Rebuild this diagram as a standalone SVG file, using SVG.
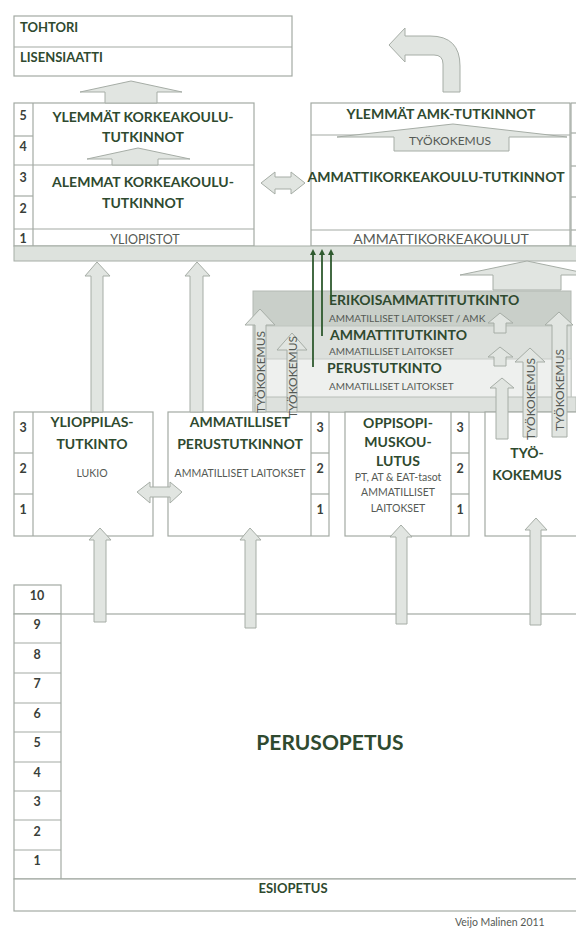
<svg xmlns="http://www.w3.org/2000/svg" width="576" height="930" viewBox="0 0 576 930">
<style>
.box{fill:#fff;stroke:#a3aaa3;stroke-width:1.2}
.ln{stroke:#a3aaa3;stroke-width:1.2;fill:none}
.arr{fill:#e1e5e1;stroke:#a6ada6;stroke-width:1}
.t{font-family:Lato,"Open Sans",sans-serif;font-weight:bold;fill:#2f4a2f;text-anchor:middle}
.r{font-family:Lato,"Open Sans",sans-serif;fill:#555a55;text-anchor:middle}
.n{font-family:Lato,"Open Sans",sans-serif;font-weight:bold;fill:#3a3f3a;font-size:12.5px;text-anchor:middle}
.dk{stroke:#2e5a2e;stroke-width:1.8;fill:none}
</style>
<defs>
<marker id="ah" markerWidth="6" markerHeight="6" refX="3" refY="3" orient="auto" markerUnits="userSpaceOnUse" viewBox="0 0 6 6">
<path d="M0,0 L6,3 L0,6 Z" fill="#2e5a2e"/>
</marker>
</defs>

<g id="tohtori">
<rect class="box" x="14" y="16" width="278" height="60"/>
<line class="ln" x1="14" y1="47" x2="292" y2="47"/>
<text class="t" x="20" y="32" font-size="13" style="text-anchor:start">TOHTORI</text>
<text class="t" x="20" y="62" font-size="13" style="text-anchor:start">LISENSIAATTI</text>
</g>

<g id="yliopistot">
<rect class="box" x="14" y="103" width="240" height="143"/>
<line class="ln" x1="33" y1="103" x2="33" y2="246"/>
<line class="ln" x1="14" y1="136" x2="33" y2="136"/>
<line class="ln" x1="14" y1="165" x2="254" y2="165"/>
<line class="ln" x1="14" y1="196" x2="33" y2="196"/>
<line class="ln" x1="14" y1="229" x2="254" y2="229"/>
<text class="n" x="23" y="120">5</text>
<text class="n" x="23" y="151">4</text>
<text class="n" x="23" y="182">3</text>
<text class="n" x="23" y="213">2</text>
<text class="n" x="23" y="243">1</text>
<text class="t" x="143" y="122" font-size="14">YLEMMÄT KORKEAKOULU-</text>
<text class="t" x="143" y="142" font-size="14">TUTKINNOT</text>
<text class="t" x="143" y="187" font-size="14">ALEMMAT KORKEAKOULU-</text>
<text class="t" x="143" y="208" font-size="14">TUTKINNOT</text>
<text class="r" x="145" y="244" font-size="12.5">YLIOPISTOT</text>
</g>

<g id="amk">
<rect class="box" x="311" y="103" width="259" height="143"/>
<line class="ln" x1="311" y1="135" x2="570" y2="135"/>
<line class="ln" x1="311" y1="230" x2="570" y2="230"/>
<line class="ln" x1="571" y1="103" x2="576" y2="103"/>
<line class="ln" x1="571" y1="103" x2="571" y2="246"/>
<line class="ln" x1="571" y1="133" x2="576" y2="133"/>
<line class="ln" x1="571" y1="166" x2="576" y2="166"/>
<line class="ln" x1="571" y1="197" x2="576" y2="197"/>
<line class="ln" x1="571" y1="230" x2="576" y2="230"/>
<text class="t" x="441" y="119" font-size="14">YLEMMÄT AMK-TUTKINNOT</text>
<text class="t" x="436" y="182" font-size="14">AMMATTIKORKEAKOULU-TUTKINNOT</text>
<text class="r" x="441" y="244" font-size="14">AMMATTIKORKEAKOULUT</text>
</g>

<g id="erikois">
<rect x="253" y="291" width="318" height="121" fill="#c9cfc9" stroke="#b3b9b3" stroke-width="1"/>
<text class="t" x="329" y="305" font-size="14" style="text-anchor:start">ERIKOISAMMATTITUTKINTO</text>
<text class="r" x="329" y="322" font-size="10" style="text-anchor:start">AMMATILLISET LAITOKSET / AMK</text>
</g>
<g id="ammatti">
<rect x="265" y="326" width="306" height="86" fill="#dce0dc" stroke="#bfc5bf" stroke-width="1"/>
<text class="t" x="330" y="340" font-size="14" style="text-anchor:start">AMMATTITUTKINTO</text>
<text class="r" x="329" y="355" font-size="10" style="text-anchor:start">AMMATILLISET LAITOKSET</text>
</g>
<g id="perus">
<rect x="265" y="359" width="306" height="53" fill="#eef0ee" stroke="#c8ccc8" stroke-width="1"/>
<text class="t" x="327" y="373" font-size="14" style="text-anchor:start">PERUSTUTKINTO</text>
<text class="r" x="329" y="390" font-size="10" style="text-anchor:start">AMMATILLISET LAITOKSET</text>
<rect x="253" y="397" width="323" height="15" fill="#dde1dd" stroke="#b8beb8" stroke-width="1"/>
</g>

<g id="ylioppilas">
<rect class="box" x="14" y="412" width="139" height="124"/>
<line class="ln" x1="33" y1="412" x2="33" y2="536"/>
<line class="ln" x1="14" y1="453" x2="33" y2="453"/>
<line class="ln" x1="14" y1="494" x2="33" y2="494"/>
<text class="n" x="23" y="432">3</text>
<text class="n" x="23" y="473">2</text>
<text class="n" x="23" y="514">1</text>
<text class="t" x="92" y="427" font-size="14">YLIOPPILAS-</text>
<text class="t" x="92" y="449" font-size="14">TUTKINTO</text>
<text class="r" x="92" y="477" font-size="10.5">LUKIO</text>
</g>

<g id="ammatilliset">
<rect class="box" x="168" y="412" width="161" height="124"/>
<line class="ln" x1="311" y1="412" x2="311" y2="536"/>
<line class="ln" x1="311" y1="453" x2="329" y2="453"/>
<line class="ln" x1="311" y1="494" x2="329" y2="494"/>
<text class="n" x="320" y="432">3</text>
<text class="n" x="320" y="473">2</text>
<text class="n" x="320" y="514">1</text>
<text class="t" x="240" y="427" font-size="14">AMMATILLISET</text>
<text class="t" x="240" y="449" font-size="14">PERUSTUTKINNOT</text>
<text class="r" x="240" y="477" font-size="10.5">AMMATILLISET LAITOKSET</text>
</g>

<g id="oppisopimus">
<rect class="box" x="345" y="412" width="124" height="124"/>
<line class="ln" x1="451" y1="412" x2="451" y2="536"/>
<line class="ln" x1="451" y1="453" x2="469" y2="453"/>
<line class="ln" x1="451" y1="494" x2="469" y2="494"/>
<text class="n" x="460" y="432">3</text>
<text class="n" x="460" y="473">2</text>
<text class="n" x="460" y="514">1</text>
<text class="t" x="398" y="428" font-size="14">OPPISOPI-</text>
<text class="t" x="398" y="447" font-size="14">MUSKOU-</text>
<text class="t" x="398" y="466" font-size="14">LUTUS</text>
<text class="r" x="398" y="481" font-size="10.5">PT, AT &amp; EAT-tasot</text>
<text class="r" x="398" y="496" font-size="10.5">AMMATILLISET</text>
<text class="r" x="398" y="512" font-size="10.5">LAITOKSET</text>
</g>

<g id="tyokokemus">
<rect class="box" x="485" y="412" width="100" height="124"/>
<text class="t" x="527" y="458" font-size="14">TYÖ-</text>
<text class="t" x="527" y="480" font-size="14">KOKEMUS</text>
</g>

<g id="perusopetus">
<rect class="box" x="14" y="585" width="47" height="29"/>
<rect class="box" x="14" y="614" width="570" height="265"/>
<line class="ln" x1="61" y1="614" x2="61" y2="879"/>
<line class="ln" x1="14" y1="643" x2="61" y2="643"/>
<line class="ln" x1="14" y1="673" x2="61" y2="673"/>
<line class="ln" x1="14" y1="703" x2="61" y2="703"/>
<line class="ln" x1="14" y1="732" x2="61" y2="732"/>
<line class="ln" x1="14" y1="762" x2="61" y2="762"/>
<line class="ln" x1="14" y1="791" x2="61" y2="791"/>
<line class="ln" x1="14" y1="820" x2="61" y2="820"/>
<line class="ln" x1="14" y1="850" x2="61" y2="850"/>
<text class="n" x="37" y="600" font-size="11.5">10</text>
<text class="n" x="37" y="629">9</text>
<text class="n" x="37" y="659">8</text>
<text class="n" x="37" y="688">7</text>
<text class="n" x="37" y="718">6</text>
<text class="n" x="37" y="747">5</text>
<text class="n" x="37" y="777">4</text>
<text class="n" x="37" y="806">3</text>
<text class="n" x="37" y="836">2</text>
<text class="n" x="37" y="865">1</text>
<text class="t" x="330" y="750" font-size="21">PERUSOPETUS</text>
</g>

<g id="esiopetus">
<rect class="box" x="14" y="879" width="570" height="32"/>
<text class="t" x="293" y="893" font-size="13">ESIOPETUS</text>
</g>

<text class="r" x="455" y="926" font-size="10.5" style="text-anchor:start">Veijo Malinen 2011</text>

<g id="connectors">
<rect x="14" y="246" width="570" height="15" fill="#dde2dd" stroke="#a6ada6" stroke-width="1"/>
<path class="arr" d="M389,45 L405,28 L405,36 L430,36 Q460,36 460,66 L460,92 L443,92 L443,64 Q443,55 434,55 L405,55 L405,62 Z"/>
<polygon class="arr" points="131,81 182,92 157,92 157,103 105,103 105,92 80,92"/>
<polygon class="arr" points="138,148 190,159 158,159 158,165 112,165 112,159 87,159"/>
<polygon class="arr" points="453,124 567,137 509,137 509,151 394,151 394,137 337,137"/>
<text class="r" x="450" y="145" font-size="12">TYÖKOKEMUS</text>
<polygon class="arr" points="261,183 275,172 275,177 291,177 291,172 305,183 291,194 291,189 275,189 275,194"/>
<polygon class="arr" points="137,492 150,482 150,487 170,487 170,482 182,492 170,503 170,497 150,497 150,503"/>
<polygon class="arr" points="97,262 110,276 103,276 103,412 91,412 91,276 85,276"/>
<polygon class="arr" points="197,262 210,276 203,276 203,412 190,412 190,276 185,276"/>
<polygon class="arr" points="527,261 594,275 561,275 561,290 493,290 493,275 460,275"/>
<polygon class="arr" points="100,528 111,540 106,540 106,622 94,622 94,540 89,540"/>
<polygon class="arr" points="250,528 261,540 256,540 256,628 245,628 245,540 240,540"/>
<polygon class="arr" points="401,525 412,537 407,537 407,624 396,624 396,537 390,537"/>
<polygon class="arr" points="536,518 547,530 541,530 541,625 530,625 530,530 525,530"/>
<polygon class="arr" points="260,309 275,325 266,325 266,412 255,412 255,325 245,325"/>
<text class="r" x="265" y="372" font-size="12" transform="rotate(-90 265 372)">TYÖKOKEMUS</text>
<polygon class="arr" points="292,333 307,350 297,350 297,412 287,412 287,350 277,350"/>
<text class="r" x="296.5" y="377" font-size="12" transform="rotate(-90 296.5 377)">TYÖKOKEMUS</text>
<polygon class="arr" points="500,313 513,323 506,323 506,333 494,333 494,323 488,323"/>
<polygon class="arr" points="500,347 513,357 506,357 506,366 494,366 494,357 488,357"/>
<polygon class="arr" points="502,378 514,388 508,388 508,439 496,439 496,388 490,388"/>
<polygon class="arr" points="530,348 545,362 537,362 537,437 523,437 523,362 515,362"/>
<text class="r" x="534.5" y="399" font-size="12" transform="rotate(-90 534.5 399)">TYÖKOKEMUS</text>
<polygon class="arr" points="559,312 573,325 567,325 567,437 552,437 552,325 545,325"/>
<text class="r" x="564" y="390" font-size="12" transform="rotate(-90 564 390)">TYÖKOKEMUS</text>
<line class="dk" x1="313" y1="367" x2="313" y2="252" marker-end="url(#ah)"/>
<line class="dk" x1="322" y1="336" x2="322" y2="252" marker-end="url(#ah)"/>
<line class="dk" x1="331" y1="300" x2="331" y2="252" marker-end="url(#ah)"/>
</g>
</svg>
